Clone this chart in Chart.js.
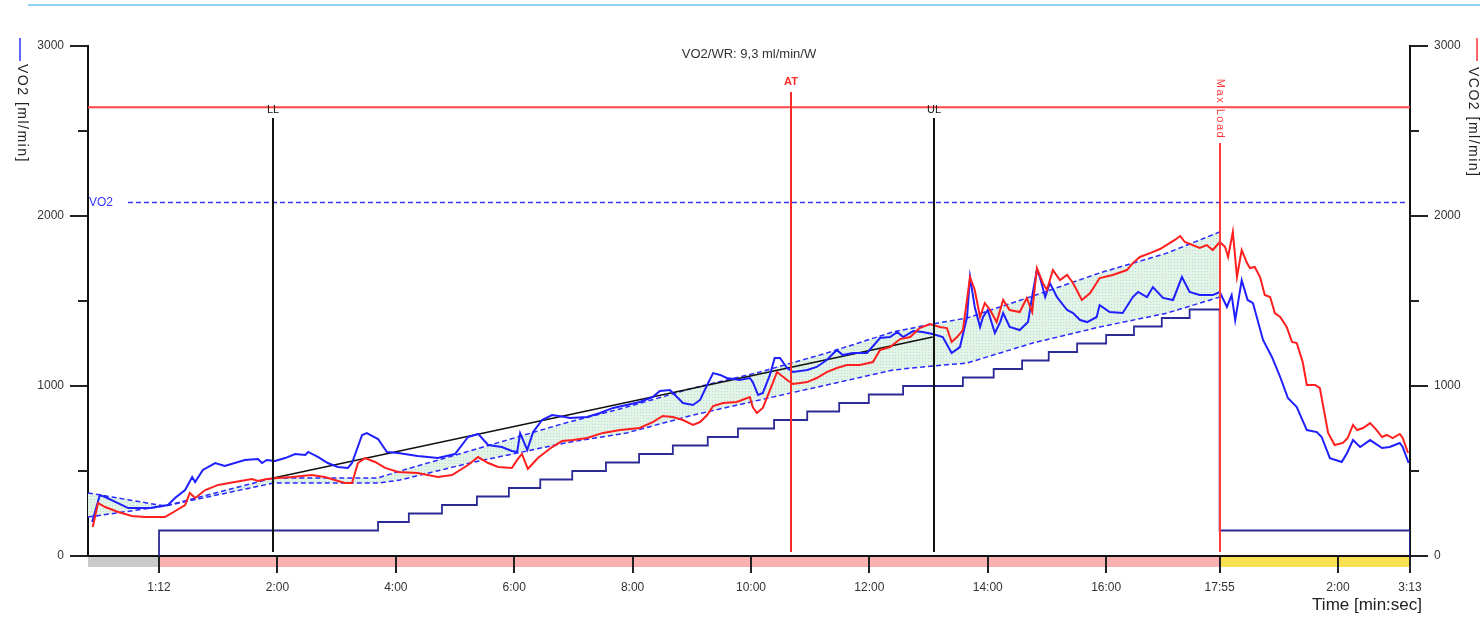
<!DOCTYPE html>
<html>
<head>
<meta charset="utf-8">
<script src="https://cdn.jsdelivr.net/npm/chart.js@4.4.1/dist/chart.umd.min.js"></script>
<style>
  html, body { margin: 0; padding: 0; background: #fff; }
  #wrap { position: relative; width: 1480px; height: 617px; }
  #topline { position: absolute; left: 28px; right: 0; top: 4px; height: 2px; background: #8fd0f5; }
  canvas { display: block; }
</style>
</head>
<body>
<div id="wrap">
  <div id="topline"></div>
  <canvas id="chart" width="1480" height="617"></canvas>
</div>
<script>
// time axis in minutes from start of rest (rest 1:12, exercise 17:55, recovery 3:13)
const phaseBounds = [0, 1.2, 19.117, 22.333];
const phaseColors = ['#c9c9c9', '#f9b0b0', '#f8e050'];
const tickTimes = [1.2, 3.2, 5.2, 7.2, 9.2, 11.2, 13.2, 15.2, 17.2, 19.117, 21.117, 22.333];
const tickLabels = ['1:12', '2:00', '4:00', '6:00', '8:00', '10:00', '12:00', '14:00', '16:00', '17:55', '2:00', '3:13'];

const vo2Time = [0.07,0.20,0.29,0.68,1.05,1.35,1.47,1.64,1.76,1.81,
  1.94,2.15,2.31,2.65,2.87,2.94,3.02,3.16,3.33,3.50,
  3.67,3.72,3.89,4.05,4.22,4.39,4.46,4.63,4.71,4.90,
  5.05,5.24,5.57,5.91,6.20,6.42,6.59,6.76,6.99,7.16,
  7.25,7.30,7.42,7.52,7.67,7.84,8.06,8.14,8.43,8.65,
  8.87,9.10,9.32,9.54,9.66,9.83,9.95,10.05,10.22,10.34,
  10.46,10.56,10.68,10.79,11.01,11.18,11.23,11.32,11.40,11.52,
  11.60,11.69,11.81,11.91,12.15,12.31,12.48,12.65,12.75,12.92,
  13.16,13.38,13.55,13.67,13.77,13.94,14.10,14.27,14.44,14.59,
  14.73,14.85,14.90,14.98,15.07,15.12,15.20,15.32,15.41,15.46,
  15.57,15.74,15.88,15.96,16.03,16.08,16.17,16.25,16.37,16.54,
  16.64,16.76,16.88,17.04,17.09,17.26,17.48,17.65,17.74,17.89,
  17.99,18.16,18.33,18.48,18.61,18.78,19.00,19.12,19.24,19.32,
  19.38,19.49,19.59,19.68,19.85,20.00,20.14,20.27,20.42,20.59,
  20.76,20.84,20.98,21.18,21.27,21.37,21.49,21.66,21.86,21.99,
  22.16,22.21,22.31];
const vo2Vals = [200,359,347,282,282,300,341,388,465,435,
  506,547,529,565,571,547,565,559,576,600,
  594,612,582,547,524,518,547,712,723,688,
  612,606,588,576,600,700,718,653,641,618,
  612,723,624,729,800,829,818,812,818,841,
  871,888,906,935,971,976,935,900,888,918,
  1006,1076,1065,1047,1035,1047,1023,947,959,1065,
  1165,1165,1106,1082,1094,1112,1153,1212,1182,1194,
  1194,1282,1288,1318,1288,1323,1318,1306,1288,1194,
  1229,1406,1641,1465,1347,1406,1447,1312,1376,1429,
  1347,1329,1376,1547,1682,1641,1523,1606,1523,1447,
  1429,1388,1376,1406,1476,1435,1429,1523,1553,1523,
  1582,1518,1506,1641,1553,1535,1535,1553,1465,1535,
  1388,1623,1506,1488,1271,1171,1053,929,876,741,
  729,700,576,553,606,682,641,682,635,641,
  665,641,547];

const vco2Time = [0.08,0.17,0.29,0.51,0.74,0.96,1.30,1.42,1.64,1.72,
  1.81,1.98,2.20,2.48,2.77,2.87,3.02,3.21,3.45,3.78,
  4.00,4.34,4.46,4.56,4.68,4.85,5.02,5.24,5.57,5.91,
  6.15,6.42,6.59,6.76,6.93,7.16,7.25,7.33,7.43,7.60,
  7.84,8.01,8.19,8.43,8.70,8.99,9.32,9.54,9.71,9.88,
  10.05,10.22,10.34,10.46,10.56,10.73,10.96,11.18,11.23,11.30,
  11.40,11.52,11.64,11.81,11.91,12.15,12.31,12.48,12.65,12.82,
  13.04,13.26,13.38,13.55,13.72,13.89,14.05,14.22,14.39,14.51,
  14.59,14.68,14.78,14.90,14.98,15.07,15.15,15.24,15.35,15.46,
  15.57,15.74,15.86,15.95,16.03,16.13,16.20,16.30,16.42,16.54,
  16.64,16.79,16.93,17.09,17.31,17.55,17.65,17.77,17.94,18.11,
  18.36,18.45,18.53,18.78,18.90,19.00,19.12,19.21,19.26,19.34,
  19.41,19.49,19.58,19.63,19.71,19.80,19.88,19.97,20.05,20.14,
  20.25,20.34,20.42,20.52,20.59,20.73,20.81,20.95,21.06,21.20,
  21.28,21.37,21.44,21.54,21.66,21.77,21.86,21.94,22.04,22.16,
  22.21,22.30];
const vco2Vals = [171,312,288,259,235,229,229,253,300,371,
  341,388,418,435,453,441,453,459,465,476,
  465,429,429,547,576,553,518,494,488,465,
  476,535,582,547,524,518,565,600,512,576,
  641,676,682,694,724,741,753,788,824,818,
  800,771,788,829,882,900,906,935,876,841,
  871,976,1082,1035,1012,1023,1047,1082,1106,1123,
  1123,1141,1212,1229,1276,1288,1341,1365,1347,1341,
  1259,1288,1329,1641,1565,1406,1488,1447,1376,1506,
  1447,1435,1518,1435,1694,1606,1565,1682,1623,1653,
  1606,1506,1547,1635,1653,1682,1723,1759,1782,1806,
  1859,1882,1847,1812,1829,1800,1847,1818,1759,1906,
  1641,1800,1723,1694,1700,1641,1535,1523,1429,1406,
  1347,1259,1253,1141,1006,1006,988,724,653,665,
  694,771,741,753,782,741,700,712,694,718,
  694,606];

// work rate steps (plotted on the VO2 scale)
const wrTime = [1.2,1.2,4.90,5.42,5.98,6.57,7.11,7.64,8.18,8.75,9.31,9.88,10.47,10.98,11.59,12.15,12.69,13.19,13.77,
  14.78,15.30,15.78,16.23,16.71,17.20,17.67,18.14,18.61,19.117,22.333,22.333];
const wrLevels = [0,150,200,250,300,350,400,450,500,550,600,650,700,750,800,850,900,950,1000,
  1050,1100,1150,1200,1250,1300,1350,1400,1450,150,150,0];

// predicted VO2 band
const bandTime = [0, 1.30, 3.13, 4.90, 5.27, 6.45, 8.06, 9.10, 10.22, 11.35, 12.48, 13.60, 14.27, 14.85, 15.96, 17.09, 18.23, 19.117];
const bandUpper = [371, 294, 459, 459, 500, 618, 782, 876, 988, 1082, 1194, 1318, 1365, 1400, 1529, 1665, 1782, 1906];
const bandLower = [229, 294, 429, 429, 447, 547, 665, 724, 829, 918, 1006, 1094, 1118, 1135, 1253, 1347, 1429, 1523];

// VO2/WR slope line between LL and UL
const regTime = [3.13, 14.27];
const regVals = [459, 1288];

const markerNames = ['LL', 'AT', 'UL', 'Max Load'];
const markerTimes = [3.13, 11.875, 14.29, 19.117];
const loadLine = 2640;
const vo2PeakLine = 2080;

const FONT = "'Liberation Sans', Arial, sans-serif";
const pts = (t, v) => t.map((x, i) => ({ x: x, y: v[i] }));

function dotPattern() {
  const c = document.createElement('canvas');
  c.width = 3; c.height = 3;
  const g = c.getContext('2d');
  g.fillStyle = '#e2f4e6';
  g.fillRect(0, 0, 3, 3);
  g.fillStyle = 'rgba(150,185,215,0.45)';
  g.fillRect(1, 1, 1, 1);
  return g.createPattern(c, 'repeat');
}

const overlay = {
  id: 'overlay',
  beforeDraw(chart) {
    const { ctx, chartArea: a, scales: { x } } = chart;
    ctx.save();
    for (let i = 0; i < phaseColors.length; i++) {
      const x0 = x.getPixelForValue(phaseBounds[i]);
      const x1 = x.getPixelForValue(phaseBounds[i + 1]);
      ctx.fillStyle = phaseColors[i];
      ctx.fillRect(x0, a.bottom + 1, x1 - x0, 10);
    }
    ctx.restore();
  },
  beforeDatasetsDraw(chart) {
    const { ctx, chartArea: a, scales: { y } } = chart;
    ctx.save();
    let py = y.getPixelForValue(loadLine);
    ctx.strokeStyle = '#ff4545';
    ctx.lineWidth = 2;
    ctx.beginPath(); ctx.moveTo(a.left, py); ctx.lineTo(a.right, py); ctx.stroke();

    py = y.getPixelForValue(vo2PeakLine);
    ctx.strokeStyle = '#3535ff';
    ctx.lineWidth = 1.5;
    ctx.setLineDash([5, 3]);
    ctx.beginPath(); ctx.moveTo(a.left + 40, py); ctx.lineTo(a.right - 2, py); ctx.stroke();
    ctx.setLineDash([]);
    ctx.fillStyle = '#3535ff';
    ctx.font = '12px ' + FONT;
    ctx.textBaseline = 'middle';
    ctx.fillText('VO2', a.left + 1, py);
    ctx.restore();
  },
  afterDatasetsDraw(chart) {
    const { ctx, chartArea: a, scales: { x } } = chart;
    const tops = [72, 46, 72, 97];
    const colors = ['#111', '#ff2a2a', '#111', '#ff3a3a'];
    ctx.save();
    ctx.textAlign = 'center';
    ctx.textBaseline = 'middle';
    markerTimes.forEach((t, i) => {
      const px = Math.round(x.getPixelForValue(t));
      ctx.strokeStyle = colors[i];
      ctx.lineWidth = 2;
      ctx.beginPath(); ctx.moveTo(px, a.top + tops[i]); ctx.lineTo(px, a.bottom - 4); ctx.stroke();
      ctx.fillStyle = colors[i];
      if (i === 3) {
        ctx.save();
        ctx.font = '11px ' + FONT;
        ctx.letterSpacing = '1.5px';
        ctx.translate(px, a.top + 63);
        ctx.rotate(Math.PI / 2);
        ctx.fillText(markerNames[i], 0, 0);
        ctx.restore();
      } else if (i === 1) {
        ctx.font = 'bold 11px ' + FONT;
        ctx.fillText(markerNames[i], px, a.top + 36);
      } else {
        ctx.font = '11px ' + FONT;
        ctx.fillText(markerNames[i], px, a.top + 64);
      }
    });
    ctx.restore();
  },
  afterDraw(chart) {
    const { ctx, chartArea: a, scales: { y } } = chart;
    ctx.save();
    // minor ticks
    ctx.strokeStyle = '#222';
    ctx.lineWidth = 2;
    [500, 1500, 2500].forEach(v => {
      const py = Math.round(y.getPixelForValue(v));
      ctx.beginPath(); ctx.moveTo(a.left - 10, py); ctx.lineTo(a.left, py); ctx.stroke();
      ctx.beginPath(); ctx.moveTo(a.right, py); ctx.lineTo(a.right + 9, py); ctx.stroke();
    });
    // header text
    ctx.fillStyle = '#333';
    ctx.font = '13px ' + FONT;
    ctx.textAlign = 'center';
    ctx.textBaseline = 'middle';
    ctx.fillText('VO2/WR: 9,3 ml/min/W', (a.left + a.right) / 2, a.top + 8);
    // axis titles
    ctx.lineWidth = 1.5;
    ctx.strokeStyle = '#3030ff';
    ctx.beginPath(); ctx.moveTo(20, 38); ctx.lineTo(20, 61); ctx.stroke();
    ctx.strokeStyle = '#ff3030';
    ctx.beginPath(); ctx.moveTo(1477, 38); ctx.lineTo(1477, 61); ctx.stroke();
    ctx.font = '14px ' + FONT;
    ctx.letterSpacing = '1.5px';
    ctx.textAlign = 'left';
    ctx.fillStyle = '#222';
    ctx.save();
    ctx.translate(22, 64); ctx.rotate(Math.PI / 2);
    ctx.fillText('VO2 [ml/min]', 0, 0);
    ctx.restore();
    ctx.save();
    ctx.translate(1473, 67); ctx.rotate(Math.PI / 2);
    ctx.fillText('VCO2 [ml/min]', 0, 0);
    ctx.restore();
    ctx.letterSpacing = '0px';
    ctx.font = '17px ' + FONT;
    ctx.textAlign = 'right';
    ctx.fillText('Time [min:sec]', a.right + 12, a.bottom + 49);
    ctx.restore();
  }
};

const yAxis = (pos, w) => ({
  type: 'linear',
  position: pos,
  min: 0,
  max: 3000,
  afterFit: s => { s.width = w; },
  grid: { drawOnChartArea: false, tickLength: 18, color: '#222', lineWidth: 2 },
  border: { color: '#111', width: 2 },
  ticks: { stepSize: 1000, padding: 6, color: '#333', font: { size: 12, family: FONT }, callback: v => String(v) }
});

new Chart(document.getElementById('chart'), {
  type: 'line',
  data: {
    datasets: [
      { label: 'VCO2', data: pts(vco2Time, vco2Vals), borderColor: '#ff1f1f', borderWidth: 2, order: 0 },
      { label: 'VO2', data: pts(vo2Time, vo2Vals), borderColor: '#1f1fff', borderWidth: 2, order: 1 },
      { label: 'WR', data: pts(wrTime, wrLevels), stepped: true, borderColor: '#2b2b95', borderWidth: 1.8, order: 2 },
      { label: 'VO2/WR', data: pts(regTime, regVals), borderColor: '#111', borderWidth: 1.5, order: 3 },
      { label: 'pred high', data: pts(bandTime, bandUpper), borderColor: '#2a2aff', borderWidth: 1.5, borderDash: [5, 3], order: 4 },
      { label: 'pred low', data: pts(bandTime, bandLower), borderColor: '#2a2aff', borderWidth: 1.5, borderDash: [5, 3],
        fill: '-1', backgroundColor: dotPattern(), order: 5 }
    ]
  },
  options: {
    responsive: false,
    animation: false,
    layout: { padding: { top: 46 } },
    elements: { point: { radius: 0 }, line: { tension: 0 } },
    plugins: { legend: { display: false }, tooltip: { enabled: false } },
    scales: {
      x: {
        type: 'linear',
        min: 0,
        max: phaseBounds[3],
        afterBuildTicks: s => { s.ticks = tickTimes.map(v => ({ value: v })); },
        afterFit: s => { s.height = 61; },
        grid: { drawOnChartArea: false, tickLength: 17, color: '#222', lineWidth: 2 },
        border: { color: '#111', width: 2 },
        ticks: { autoSkip: false, maxRotation: 0, padding: 7, color: '#333', font: { size: 12, family: FONT },
          callback: (v, i) => tickLabels[i] }
      },
      y: yAxis('left', 88),
      y2: yAxis('right', 70)
    }
  },
  plugins: [overlay]
});
</script>
</body>
</html>
